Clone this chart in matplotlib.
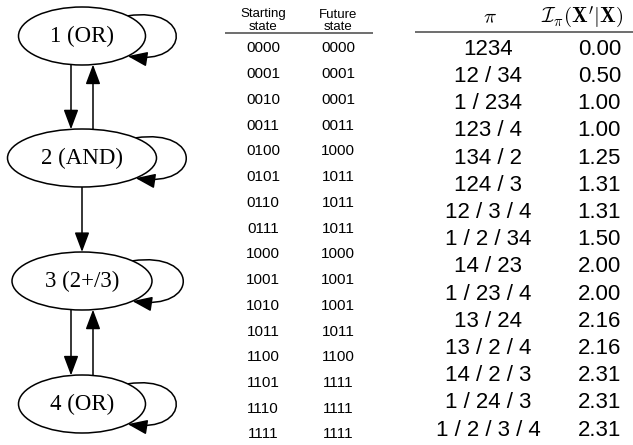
import numpy as np
import matplotlib; matplotlib.use('Agg')
import matplotlib.pyplot as plt
from matplotlib.patches import Ellipse, FancyArrowPatch
from matplotlib.path import Path
plt.rcParams['mathtext.fontset'] = 'cm'

# ---- data ----
node_labels = ['1 (OR)', '2 (AND)', '3 (2+/3)', '4 (OR)']
edges = [(0, 1), (1, 0), (1, 2), (2, 3), (3, 2)]      # plus a self loop on every node
start_states = ['0000', '0001', '0010', '0011', '0100', '0101', '0110', '0111',
                '1000', '1001', '1010', '1011', '1100', '1101', '1110', '1111']
future_states = ['0000', '0001', '0001', '0011', '1000', '1011', '1011', '1011',
                 '1000', '1001', '1001', '1011', '1100', '1111', '1111', '1111']
partitions = ['1234', '12 / 34', '1 / 234', '123 / 4', '134 / 2', '124 / 3', '12 / 3 / 4',
              '1 / 2 / 34', '14 / 23', '1 / 23 / 4', '13 / 24', '13 / 2 / 4', '14 / 2 / 3',
              '1 / 24 / 3', '1 / 2 / 3 / 4']
info = [0.00, 0.50, 1.00, 1.00, 1.25, 1.31, 1.31, 1.50, 2.00, 2.00, 2.16, 2.16, 2.31, 2.31, 2.31]

# ---- canvas in pixel coords ----
W, H = 633, 445
fig = plt.figure(figsize=(W/100, H/100), dpi=100)
ax = fig.add_axes([0, 0, 1, 1]); ax.set_xlim(0, W); ax.set_ylim(H, 0); ax.axis('off')

# ---- graph ----
CX = 82
NY = [36, 158, 281, 404]
NW = [127, 149, 140, 127]
LOOP_X = [176, 186, 183, 176]     # rightmost extent of the self loops
B = 29
AH = dict(arrowstyle='-|>,head_length=1.2,head_width=0.45', mutation_scale=10,
          color='black', lw=1.1, shrinkA=0, shrinkB=0)

def ey(i, x, side):
    a = NW[i]/2
    return NY[i] + side*B*np.sqrt(max(0, 1-((x-CX)/a)**2))

for i, lab in enumerate(node_labels):
    ax.add_patch(Ellipse((CX, NY[i]), NW[i], 2*B, facecolor='white', edgecolor='black', lw=1.1, zorder=2))
    ax.text(CX, NY[i], lab, ha='center', va='center', fontsize=16.5,
            family='Liberation Serif', zorder=3)

for s, t in edges:
    if (t, s) in edges:
        x0 = x1 = 71 if t > s else 93
    else:
        x0 = x1 = CX
    if t > s:
        p0 = (x0, ey(s, x0, 1)); p1 = (x1, ey(t, x1, -1))
    else:
        p0 = (x0, ey(s, x0, -1)); p1 = (x1, ey(t, x1, 1))
    ax.add_patch(FancyArrowPatch(p0, p1, zorder=1, **AH))

for i in range(len(node_labels)):
    a = NW[i]/2
    xs = CX + 0.72*a
    y0 = ey(i, xs, -1); y1 = ey(i, xs, 1)
    xr = xs + (LOOP_X[i] - xs)/0.75
    path = Path([(xs, y0), (xr, y0-10), (xr, y1+10), (xs, y1)],
                [Path.MOVETO, Path.CURVE4, Path.CURVE4, Path.CURVE4])
    ax.add_patch(FancyArrowPatch(path=path, zorder=1, **AH))

# ---- state table ----
SF = 'Liberation Sans'
C1, C2 = 263, 338
for x, a, b in [(C1, 'Starting', 'state'), (C2, 'Future', 'state')]:
    ax.text(x, 17.5, a, ha='center', va='baseline', fontsize=9.5, family=SF)
    ax.text(x, 29.5, b, ha='center', va='baseline', fontsize=9.5, family=SF)
ax.plot([225, 373], [32.5, 32.5], color='#555555', lw=1.2, solid_capstyle='butt')
for i, (a, b) in enumerate(zip(start_states, future_states)):
    yb = 47 + 25.73*i + 5.5
    ax.text(C1, yb, a, ha='center', va='baseline', fontsize=11, family=SF)
    ax.text(C2, yb, b, ha='center', va='baseline', fontsize=11, family=SF)

# ---- partition table ----
P1, P2 = 488, 621
ax.text(490, 17, r'$\pi$', ha='center', va='center', fontsize=15)
ax.text(623, 17, r"$\mathcal{I}_{\pi}(\mathbf{X}'|\mathbf{X})$", ha='right', va='center', fontsize=15)
ax.plot([415, 633], [32, 32], color='#555555', lw=1.2, solid_capstyle='butt')
for i, (p, v) in enumerate(zip(partitions, info)):
    yb = 47 + 27.2*i + 7.8
    ax.text(P1, yb, p, ha='center', va='baseline', fontsize=16, family=SF)
    ax.text(P2, yb, f'{v:.2f}', ha='right', va='baseline', fontsize=16, family=SF)

fig.savefig('out.png', dpi=100, facecolor='white')
